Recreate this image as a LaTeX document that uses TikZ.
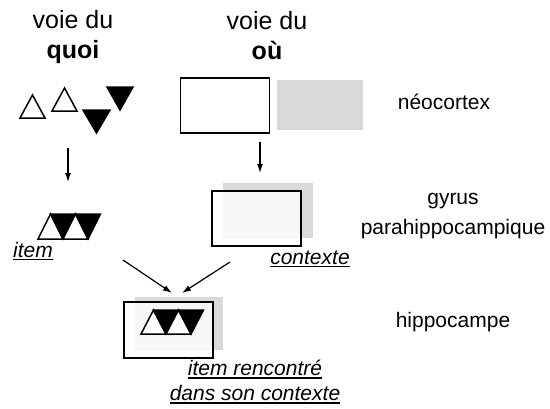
\documentclass[tikz,border=0pt]{standalone}
\usepackage{fontspec}
\setmainfont{Liberation Sans}
\usetikzlibrary{arrows.meta}

% thick underline
\newcommand\uline[1]{\leavevmode\vtop{\hbox{#1}\kern1.2pt\hrule height1.3pt}}

\tikzset{
  head/.style={font=\fontsize{25}{30}\selectfont, align=center},
  lab/.style={font=\fontsize{21}{30}\selectfont, align=center},
  under/.style={font=\fontsize{21}{25}\selectfont\itshape, align=center},
  box/.style={draw, line width=1.7pt, fill=white, fill opacity=0.8, text opacity=1,
    minimum width=89pt, minimum height=55pt, inner sep=0pt},
  shade/.style={fill=black!15, draw=none, inner sep=0pt},
  link/.style={-{Latex[length=9pt,width=6pt]}, line width=1.2pt},
  up/.style={draw, line width=1.5pt, fill=white},
  down/.style={draw, line width=1.5pt, fill=black},
}

% strip of triangles: left end x, base y, height
\newcommand\tristrip[3]{%
  \foreach \i in {0,1}{
    \filldraw[up] ({#1+25*\i},#2) -- ++(25,0) -- ++(-12.5,-#3) -- cycle;
    \filldraw[down] ({#1+25*\i+12.5},{#2-#3}) -- ++(25,0) -- ++(-12.5,#3) -- cycle;
  }}

\begin{document}
\begin{tikzpicture}[x=1pt, y=-1pt]
    \useasboundingbox (0,0) rectangle (550,408);

    % Headings of the two pathways
    \node[head] (quoi) at (73,37) {voie du\\\textbf{quoi}};
    \node[head] (ou) at (267,36) {voie du\\\textbf{où}};

    % Level names
    \node[lab] (neo) at (444,102) {néocortex};
    \node[lab] (gyrus) at (453,216) {gyrus\\parahippocampique};
    \node[lab] (hippo) at (453,322) {hippocampe};

    % Neocortex: scattered triangles
    \filldraw[up] (20,118) -- (45,118) -- (32.5,95) -- cycle;
    \filldraw[up] (52,111) -- (77,111) -- (64.5,88) -- cycle;
    \filldraw[down] (83,110) -- (110,110) -- (96.5,133) -- cycle;
    \filldraw[down] (107,87) -- (133,87) -- (120,110) -- cycle;

    % Neocortex: boxes
    \node[shade, minimum width=86pt, minimum height=50pt] (neo-grey) at (320,105) {};
    \node[box, fill opacity=1] (neo-box) at (225,105.5) {};

    % Parahippocampal level
    \tristrip{38}{239}{25}
    \node[shade, minimum width=90pt, minimum height=55pt] (ctx-grey) at (268,210.5) {};
    \node[box] (ctx-box) at (256.5,218.5) {};
    \node[under] (item) at (33,251) {\uline{item}};
    \node[under] (ctx) at (310,259) {\uline{contexte}};

    % Hippocampus level
    \node[shade, minimum width=88pt, minimum height=53pt] (hip-grey) at (179,323.5) {};
    \node[box, minimum height=56pt] (hip-box) at (168.5,330) {};
    \tristrip{141}{334}{24}
    \node[under] (bound) at (255,382) {\uline{item rencontré}\\\uline{dans son contexte}};

    % Arrows
    \coordinate (a1) at (68,148);  \coordinate (b1) at (68,182);
    \coordinate (a2) at (260,142); \coordinate (b2) at (260,173);
    \coordinate (a3) at (123,260); \coordinate (a4) at (230,262);
    \coordinate (b3) at (172,293); \coordinate (b4) at (182,293);
    \draw[link] (a1) -- (b1);
    \draw[link] (a2) -- (b2);
    \draw[link] (a3) -- (b3);
    \draw[link] (a4) -- (b4);

\end{tikzpicture}
\end{document}
